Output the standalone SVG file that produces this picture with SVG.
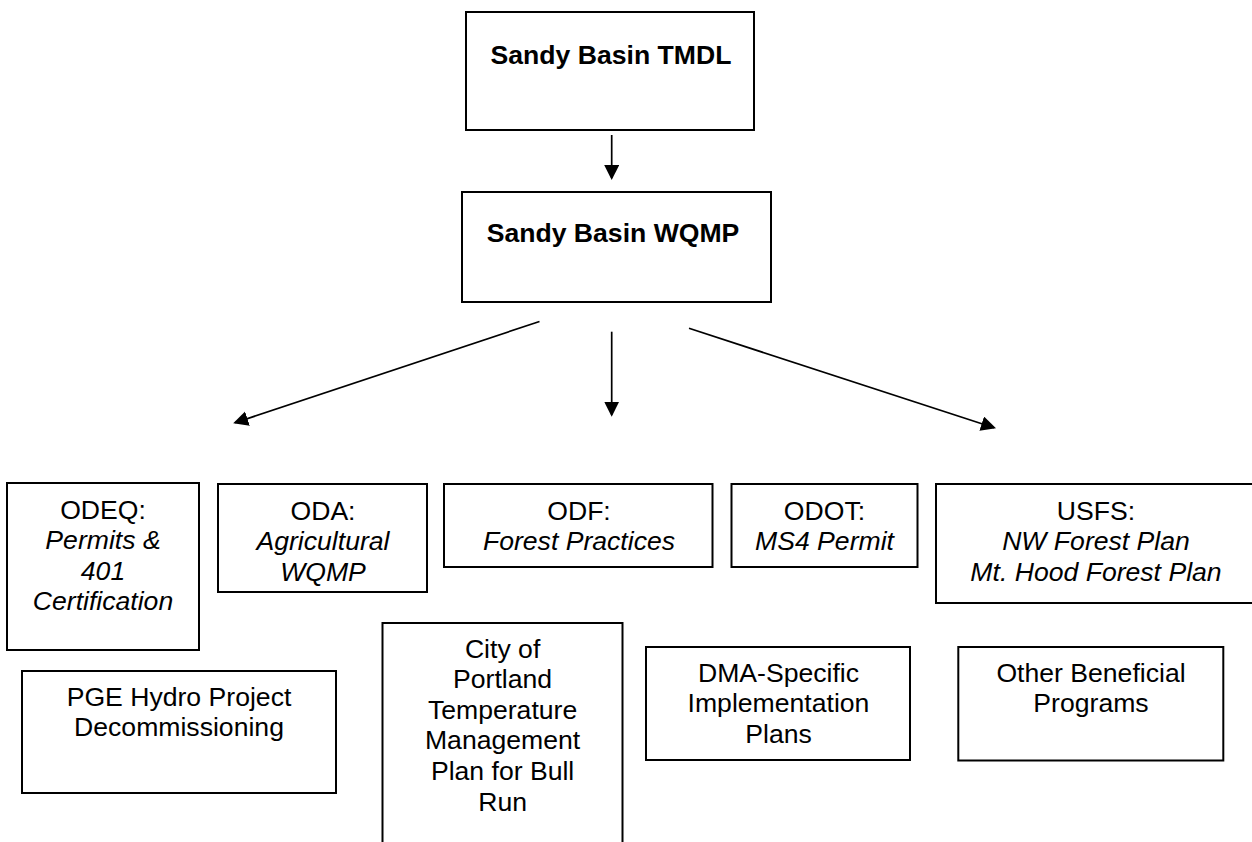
<svg xmlns="http://www.w3.org/2000/svg" width="1252" height="842" viewBox="0 0 1252 842">
<defs>
<style>
.box{fill:#fff;stroke:#000;stroke-width:2}
.t{font-family:"Liberation Sans",Arial,sans-serif;font-size:26.6px;fill:#000;text-anchor:middle}
.b{font-weight:bold}
.i{font-style:italic}
.c{stroke:#000;stroke-width:1.7;fill:none;marker-end:url(#ah)}
</style>
<marker id="ah" markerUnits="userSpaceOnUse" markerWidth="16" markerHeight="16" refX="13" refY="7.5" orient="auto">
<path d="M0,0 L15,7.5 L0,15 Z" fill="#000"/>
</marker>
</defs>
<rect width="1252" height="842" fill="#fff"/>
<g id="connectors">
<line class="c" x1="611.7" y1="135" x2="611.7" y2="178"/>
<line class="c" x1="539.5" y1="321.5" x2="235.1" y2="422.7"/>
<line class="c" x1="611.7" y1="331.7" x2="611.7" y2="414.7"/>
<line class="c" x1="689" y1="328.3" x2="994.1" y2="427.7"/>
</g>
<g id="tmdl">
<rect class="box" x="466" y="12" width="288" height="118"/>
<text class="t b" x="611" y="64">Sandy Basin TMDL</text>
</g>
<g id="wqmp">
<rect class="box" x="462" y="192" width="309" height="110"/>
<text class="t b" x="613" y="242">Sandy Basin WQMP</text>
</g>
<g id="odeq">
<rect class="box" x="7" y="483" width="192" height="167"/>
<text class="t" x="103" y="518.5">ODEQ:</text>
<text class="t i" x="103" y="549">Permits &amp;</text>
<text class="t i" x="103" y="579.5">401</text>
<text class="t i" x="103" y="610">Certification</text>
</g>
<g id="oda">
<rect class="box" x="218" y="484" width="209" height="108"/>
<text class="t" x="323" y="519.5">ODA:</text>
<text class="t i" x="323" y="550">Agricultural</text>
<text class="t i" x="323" y="580.5">WQMP</text>
</g>
<g id="odf">
<rect class="box" x="444" y="484" width="268.5" height="83"/>
<text class="t" x="579" y="519.5">ODF:</text>
<text class="t i" x="579" y="550">Forest Practices</text>
</g>
<g id="odot">
<rect class="box" x="731.5" y="484" width="186" height="83"/>
<text class="t" x="824.5" y="519.5">ODOT:</text>
<text class="t i" x="824.5" y="550">MS4 Permit</text>
</g>
<g id="usfs">
<rect class="box" x="936" y="484" width="320" height="119"/>
<text class="t" x="1096" y="519.5">USFS:</text>
<text class="t i" x="1096" y="550">NW Forest Plan</text>
<text class="t i" x="1096" y="580.5">Mt. Hood Forest Plan</text>
</g>
<g id="pge">
<rect class="box" x="22" y="671" width="314" height="122"/>
<text class="t" x="179" y="705.5">PGE Hydro Project</text>
<text class="t" x="179" y="736">Decommissioning</text>
</g>
<g id="portland">
<rect class="box" x="382.5" y="623" width="240" height="235"/>
<text class="t" x="502.6" y="657.7">City of</text>
<text class="t" x="502.6" y="688.3">Portland</text>
<text class="t" x="502.6" y="718.8">Temperature</text>
<text class="t" x="502.6" y="749.3">Management</text>
<text class="t" x="502.6" y="780">Plan for Bull</text>
<text class="t" x="502.6" y="810.6">Run</text>
</g>
<g id="dma">
<rect class="box" x="646" y="647" width="264" height="113"/>
<text class="t" x="778.5" y="681.7">DMA-Specific</text>
<text class="t" x="778.5" y="712.3">Implementation</text>
<text class="t" x="778.5" y="743">Plans</text>
</g>
<g id="other">
<rect class="box" x="958.3" y="647" width="265" height="113.5"/>
<text class="t" x="1091" y="681.7">Other Beneficial</text>
<text class="t" x="1091" y="712">Programs</text>
</g>
</svg>
